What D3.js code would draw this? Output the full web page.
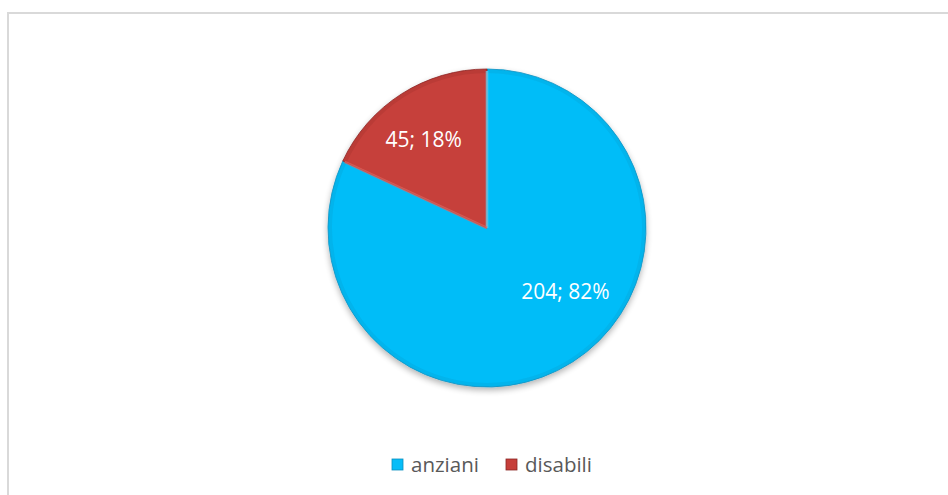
<!DOCTYPE html>
<html>
<head>
<meta charset="utf-8">
<script src="https://cdn.jsdelivr.net/npm/d3@7"></script>
<style>
  html, body { margin: 0; padding: 0; background: #fff; }
</style>
</head>
<body>
<script>
const width = 948, height = 495;

const categories = ["anziani", "disabili"];
const values = [204, 45];
const percents = ["82%", "18%"];

const colors = ["#06bdf8", "#c63f3a"];
const darks = ["#0a8fbf", "#8a2624"];
const lights = ["#6fdcfd", "#e06660"];

const cx = 487, cy = 228, R = 159;

const svg = d3.select("body").append("svg")
    .attr("width", width)
    .attr("height", height);

const defs = svg.append("defs");

// soft shadow under the pie
const shadow = defs.append("filter")
    .attr("id", "shadow")
    .attr("x", "-20%").attr("y", "-20%")
    .attr("width", "140%").attr("height", "140%");
shadow.append("feGaussianBlur").attr("in", "SourceAlpha").attr("stdDeviation", 3);
shadow.append("feOffset").attr("dx", 0).attr("dy", 3).attr("result", "off");
shadow.append("feComponentTransfer").append("feFuncA").attr("type", "linear").attr("slope", 0.3);
const merge = shadow.append("feMerge");
merge.append("feMergeNode");
merge.append("feMergeNode").attr("in", "SourceGraphic");

// frame
svg.append("rect")
    .attr("x", 8).attr("y", 13)
    .attr("width", 960).attr("height", 500)
    .attr("fill", "none")
    .attr("stroke", "#d9d9d9")
    .attr("stroke-width", 2);

const pie = d3.pie().sort(null).value(d => d);
const arcs = pie(values);
const arc = d3.arc().innerRadius(0).outerRadius(R);

const g = svg.append("g")
    .attr("transform", `translate(${cx},${cy})`);

g.append("g")
    .attr("filter", "url(#shadow)")
  .selectAll("path")
  .data(arcs)
  .join("path")
    .attr("d", arc)
    .attr("fill", (d, i) => colors[i])
    .attr("stroke", (d, i) => darks[i])
    .attr("stroke-width", 0.8);

// bevel: soft dark rim and a light edge along the slice sides
g.append("g").selectAll("path")
  .data(arcs)
  .join("path")
    .attr("d", d3.arc().innerRadius(R - 4).outerRadius(R - 0.5))
    .attr("fill", (d, i) => darks[i])
    .attr("opacity", 0.2);
g.append("g").selectAll("line")
  .data(arcs)
  .join("line")
    .attr("x1", 0).attr("y1", 0)
    .attr("x2", d => (R - 2) * Math.sin(d.startAngle))
    .attr("y2", d => -(R - 2) * Math.cos(d.startAngle))
    .attr("stroke", (d, i) => lights[i])
    .attr("stroke-width", 2.5)
    .attr("opacity", 0.7);

// data labels
const labelArc = d3.arc().innerRadius(R * 0.66).outerRadius(R * 0.66);
const labelNudge = [[22, -25], [-7, 0]];
g.append("g").selectAll("text")
  .data(arcs)
  .join("text")
    .attr("x", (d, i) => labelArc.centroid(d)[0] + labelNudge[i][0])
    .attr("y", (d, i) => labelArc.centroid(d)[1] + labelNudge[i][1])
    .attr("text-anchor", "middle")
    .attr("dy", "0.35em")
    .attr("font-family", "Open Sans, sans-serif")
    .attr("font-size", 21)
    .attr("fill", "#ffffff")
    .text((d, i) => `${values[i]}; ${percents[i]}`);

// legend
const legend = svg.append("g").attr("transform", "translate(392,465)");
const legX = [0, 114];
const item = legend.selectAll("g")
  .data(categories)
  .join("g")
    .attr("transform", (d, i) => `translate(${legX[i]},0)`);
item.append("rect")
    .attr("x", 0).attr("y", -6)
    .attr("width", 11).attr("height", 11)
    .attr("fill", (d, i) => colors[i])
    .attr("stroke", (d, i) => darks[i])
    .attr("stroke-width", 0.8);
item.append("text")
    .attr("x", 19).attr("y", 0)
    .attr("dy", "0.35em")
    .attr("font-family", "Open Sans, sans-serif")
    .attr("font-size", 20.5)
    .attr("fill", "#595959")
    .text(d => d);
</script>
</body>
</html>
